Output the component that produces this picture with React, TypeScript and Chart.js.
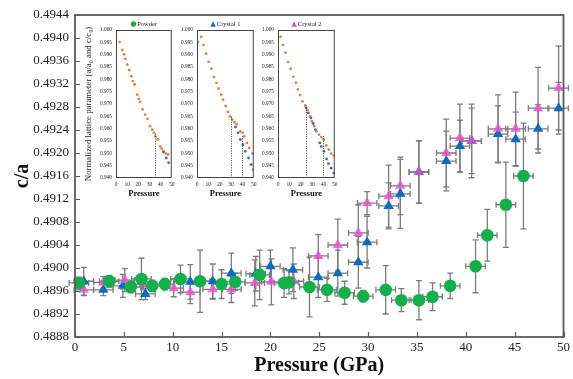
import React, { useEffect, useRef } from 'react';
import { Chart, registerables } from 'chart.js';
Chart.register(...registerables);

const FONT = '"Liberation Serif", "Times New Roman", "DejaVu Serif", serif';

// ---------- main chart data ----------
const powderP = [0.4, 3.5, 5.7, 6.8, 7.9, 9.2, 10.8, 12.8, 15.0, 16.4, 18.9, 21.4, 21.9, 24.0, 25.8, 27.6, 29.5, 31.8, 33.4, 35.2, 36.6, 38.4, 41.0, 42.2, 44.1, 45.9];
const powderCA = [0.48974, 0.48977, 0.48967, 0.48981, 0.48969, 0.48972, 0.48981, 0.48977, 0.48972, 0.48976, 0.48988, 0.48974, 0.48975, 0.48967, 0.48962, 0.48957, 0.48951, 0.48962, 0.48944, 0.48944, 0.4895, 0.48969, 0.49003, 0.49057, 0.4911, 0.4916];
const powderYErr = [0.0001, 0.0001, 0.0001, 0.00036, 0.0001, 0.0001, 0.00024, 0.00054, 0.00025, 0.00015, 0.00043, 0.00025, 0.0002, 0.00052, 0.0002, 0.0002, 0.0001, 0.00042, 0.0002, 0.00034, 0.00024, 0.00022, 0.00046, 0.00045, 0.00074, 0.00092];
const powderXErr = [1, 1, 1, 1, 1, 1, 1, 1, 1, 1, 1, 1, 1, 1, 1, 1, 1, 1, 1, 1, 1, 1, 1, 1, 1, 1];

const crystal1P = [0.9, 2.9, 4.9, 7.2, 11.8, 14.1, 16.0, 18.5, 20.0, 22.3, 24.9, 26.9, 29.0, 29.9, 32.1, 33.3, 35.2, 38.0, 39.4, 40.6, 43.3, 45.1, 47.4, 49.5];
const crystal1CA = [0.48977, 0.48962, 0.48969, 0.48955, 0.48976, 0.48977, 0.48991, 0.4899, 0.49003, 0.48997, 0.48984, 0.48991, 0.4901, 0.49045, 0.49108, 0.49129, 0.49167, 0.49186, 0.49212, 0.49221, 0.49233, 0.49224, 0.49242, 0.49278];
const crystal1YErr = [0.00024, 0.0001, 0.0002, 0.0001, 0.0003, 0.0003, 0.00035, 0.0003, 0.00028, 0.00038, 0.00035, 0.0004, 0.00045, 0.00045, 0.0004, 0.0006, 0.00054, 0.00052, 0.00045, 0.00057, 0.00049, 0.00047, 0.00042, 0.00045];
const crystal1XErr = [1, 1, 1, 1, 1, 1, 1, 1, 1, 1, 1, 1, 1, 1, 1, 1, 1, 1, 1, 1, 1, 1, 1, 1];

const crystal2P = [0.9, 2.9, 5.1, 7.0, 10.1, 11.8, 14.1, 16.0, 18.4, 20.1, 22.4, 24.9, 26.9, 29.0, 29.9, 32.1, 33.3, 35.2, 38.0, 39.4, 40.6, 43.3, 45.1, 47.4, 49.5];
const crystal2CA = [0.48962, 0.48975, 0.48979, 0.48972, 0.48965, 0.48958, 0.48963, 0.48963, 0.48974, 0.48976, 0.48977, 0.49021, 0.4904, 0.49061, 0.49113, 0.49125, 0.49143, 0.49167, 0.492, 0.49226, 0.49221, 0.49242, 0.49242, 0.49278, 0.49313];
const crystal2YErr = [0.0001, 0.0001, 0.0002, 0.0001, 0.00015, 0.0002, 0.00017, 0.00023, 0.0004, 0.0004, 0.0003, 0.00037, 0.00045, 0.00049, 0.0002, 0.00054, 0.0005, 0.00054, 0.00059, 0.00059, 0.00064, 0.00059, 0.00064, 0.00071, 0.00073];
const crystal2XErr = [1, 1, 1, 1, 1, 1, 1, 1, 1, 1, 1, 1, 1, 1, 1, 1, 1, 1, 1, 1, 1, 1, 1, 1, 1];

const seriesNames = ['Powder', 'Crystal 1', 'Crystal 2'];
const xTitle = 'Pressure (GPa)';
const yTitle = 'c/a';

// ---------- inset data ----------
const insetYTitle = 'Normalized lattice parameter (a/a\u2080 and c/c\u2080)';
const insetXTitle = 'Pressure';

const in1OrangeP = [0, 3.2, 5.7, 7.2, 8.3, 10.1, 11.8, 13.8, 15.2, 16.7, 19.0, 20.4, 21.6, 23.9, 26.1, 28.2, 30.5, 32.5, 33.9, 35.3, 37.4, 39.7, 41.1, 42.5, 44.8, 46.8];
const in1OrangeV = [1.0, 0.9951, 0.9919, 0.9901, 0.9883, 0.986, 0.9837, 0.9813, 0.9793, 0.9779, 0.9738, 0.9721, 0.9709, 0.9678, 0.9657, 0.964, 0.961, 0.9596, 0.9583, 0.9569, 0.9556, 0.9528, 0.9519, 0.9508, 0.9499, 0.9495];
const in1BlueP = [42.8, 45.1, 47.2];
const in1BlueV = [0.9505, 0.9481, 0.9462];
const in1Marks = [[35, 0.958]];

const in2OrangeP = [0.9, 3.7, 5.7, 8.0, 10.3, 12.6, 14.9, 17.2, 19.0, 21.3, 23.0, 25.3, 27.3, 29.0, 31.0, 33.0, 35.1, 38.2, 40.2, 41.7, 44.0, 46.0, 48.9];
const in2OrangeV = [0.9951, 0.9972, 0.9939, 0.9904, 0.9871, 0.9843, 0.9809, 0.9786, 0.9762, 0.9738, 0.9718, 0.9691, 0.9668, 0.965, 0.9637, 0.9626, 0.9617, 0.9589, 0.9583, 0.9569, 0.9542, 0.9522, 0.9499];
const in2BlueP = [33.9, 36.2, 38.2, 40.5, 42.5, 45.4, 47.7, 49.7];
const in2BlueV = [0.9607, 0.9583, 0.9556, 0.9535, 0.9508, 0.9481, 0.9454, 0.9434];
const in2Marks = [[30, 0.965], [40, 0.9575]];

const in3OrangeP = [0, 2.3, 4.3, 6.6, 8.9, 11.2, 13.5, 15.8, 17.5, 19.5, 21.6, 23.9, 25.9, 28.2, 29.9, 31.9, 33.9, 36.2, 38.2, 40.2, 42.5, 44.8, 46.8, 49.1];
const in3OrangeV = [1.0, 0.9972, 0.9939, 0.9908, 0.987, 0.9843, 0.981, 0.9786, 0.9759, 0.9736, 0.9711, 0.9694, 0.9675, 0.965, 0.963, 0.961, 0.9589, 0.9576, 0.9566, 0.9556, 0.9532, 0.9515, 0.9499, 0.9491];
const in3BlueP = [24.7, 26.7, 29.0, 31.0, 33.0, 36.8, 38.2, 40.5, 42.8, 44.5, 46.8, 49.1];
const in3BlueV = [0.9684, 0.9664, 0.9644, 0.9621, 0.9596, 0.9542, 0.9528, 0.9508, 0.9477, 0.9458, 0.944, 0.942];
const in3Marks = [[25, 0.9694], [40, 0.9576]];

// ---------- colours ----------
const GREEN = '#12B04B';
const BLUE = '#0A6CC4';
const PINK = 'rgba(236,78,212,0.82)';
const ORANGE = '#E8803A';
const IBLUE = '#3E6BC6';
const AXIS = '#5a5a5a';
const ERR = '#7c7c7c';

function pts(P: number[], V: number[], XE?: number[], YE?: number[]) {
  return P.map((p, i) => ({ x: p, y: V[i], xe: XE ? XE[i] : 0, ye: YE ? YE[i] : 0 }));
}

const errorBarPlugin = {
  id: 'errorBars',
  beforeDatasetsDraw(chart: any) {
    const { ctx } = chart;
    const xs = chart.scales.x;
    const ys = chart.scales.y;
    const cap = 3;
    ctx.save();
    ctx.strokeStyle = ERR;
    ctx.lineWidth = 1.3;
    chart.data.datasets.forEach((ds: any) => {
      ds.data.forEach((d: any) => {
        const px = xs.getPixelForValue(d.x);
        const py = ys.getPixelForValue(d.y);
        if (d.ye) {
          const t = ys.getPixelForValue(d.y + d.ye);
          const b = ys.getPixelForValue(d.y - d.ye);
          ctx.beginPath();
          ctx.moveTo(px, t); ctx.lineTo(px, b);
          ctx.moveTo(px - cap, t); ctx.lineTo(px + cap, t);
          ctx.moveTo(px - cap, b); ctx.lineTo(px + cap, b);
          ctx.stroke();
        }
        if (d.xe) {
          const l = xs.getPixelForValue(d.x - d.xe);
          const r = xs.getPixelForValue(d.x + d.xe);
          ctx.beginPath();
          ctx.moveTo(l, py); ctx.lineTo(r, py);
          ctx.moveTo(l, py - cap); ctx.lineTo(l, py + cap);
          ctx.moveTo(r, py - cap); ctx.lineTo(r, py + cap);
          ctx.stroke();
        }
      });
    });
    ctx.restore();
  },
};

const mainFramePlugin = {
  id: 'mainFrame',
  afterDraw(chart: any) {
    const { ctx, chartArea: ca } = chart;
    const xs = chart.scales.x;
    const ys = chart.scales.y;
    ctx.save();
    ctx.strokeStyle = AXIS;
    ctx.lineWidth = 1.2;
    ctx.beginPath();
    xs.ticks.forEach((t: any) => {
      const px = Math.round(xs.getPixelForValue(t.value)) + 0.5;
      ctx.moveTo(px, ca.bottom); ctx.lineTo(px, ca.bottom - 5);
    });
    ys.ticks.forEach((t: any) => {
      const py = Math.round(ys.getPixelForValue(t.value)) + 0.5;
      ctx.moveTo(ca.left, py); ctx.lineTo(ca.left + 5, py);
    });
    ctx.stroke();
    ctx.lineWidth = 1.8;
    ctx.strokeRect(ca.left, ca.top, ca.right - ca.left, ca.bottom - ca.top);
    ctx.restore();
  },
};

const insetPlugin = {
  id: 'insetDecor',
  afterDraw(chart: any, _args: any, opts: any) {
    const { ctx, chartArea: ca } = chart;
    const xs = chart.scales.x;
    const ys = chart.scales.y;
    ctx.save();
    ctx.strokeStyle = '#333';
    ctx.lineWidth = 0.8;
    ctx.setLineDash([1.2, 1.2]);
    (opts.marks || []).forEach((m: number[]) => {
      const px = Math.round(xs.getPixelForValue(m[0])) + 0.5;
      ctx.beginPath();
      ctx.moveTo(px, ca.bottom);
      ctx.lineTo(px, ys.getPixelForValue(m[1]));
      ctx.stroke();
    });
    ctx.setLineDash([]);
    ctx.strokeStyle = '#444';
    ctx.lineWidth = 1;
    ctx.strokeRect(ca.left + 0.5, ca.top + 0.5, ca.right - ca.left - 1, ca.bottom - ca.top - 1);
    ctx.font = `6.5px ${FONT}`;
    const tw = ctx.measureText(opts.text).width;
    const ms = 5.5;
    const total = ms + 1 + tw;
    const cx = (ca.left + ca.right) / 2;
    const x0 = cx - total / 2;
    const y = ca.top - 6;
    ctx.fillStyle = opts.color;
    ctx.beginPath();
    if (opts.shape === 'circle') {
      ctx.arc(x0 + ms / 2, y, ms / 2, 0, Math.PI * 2);
    } else {
      ctx.moveTo(x0 + ms / 2, y - ms / 2);
      ctx.lineTo(x0 + ms, y + ms / 2);
      ctx.lineTo(x0, y + ms / 2);
      ctx.closePath();
    }
    ctx.fill();
    ctx.fillStyle = '#222';
    ctx.textAlign = 'left';
    ctx.textBaseline = 'middle';
    ctx.fillText(opts.text, x0 + ms + 1, y + 0.5);
    ctx.restore();
  },
};

function mainConfig(): any {
  return {
    type: 'scatter',
    data: {
      datasets: [
        { label: seriesNames[0], data: pts(powderP, powderCA, powderXErr, powderYErr), pointStyle: 'circle', pointRadius: 6.3, backgroundColor: GREEN, borderColor: GREEN, borderWidth: 0 },
        { label: seriesNames[2], data: pts(crystal2P, crystal2CA, crystal2XErr, crystal2YErr), pointStyle: 'triangle', pointRadius: 6, backgroundColor: PINK, borderColor: PINK, borderWidth: 0 },
        { label: seriesNames[1], data: pts(crystal1P, crystal1CA, crystal1XErr, crystal1YErr), pointStyle: 'triangle', pointRadius: 6, backgroundColor: BLUE, borderColor: BLUE, borderWidth: 0 },
      ],
    },
    options: {
      responsive: false,
      animation: false,
      events: [],
      layout: { padding: { top: 15, right: 7, left: 0, bottom: 0 } },
      plugins: { legend: { display: false }, tooltip: { enabled: false } },
      scales: {
        x: {
          type: 'linear', min: 0, max: 50,
          afterFit: (s: any) => { s.height = 42; },
          grid: { display: false, drawTicks: false, tickLength: 0 },
          border: { display: false },
          ticks: { stepSize: 5, padding: 3, color: '#222', font: { family: FONT, size: 13 } },
          title: { display: true, text: xTitle, color: '#111', padding: { top: 0, bottom: 1 }, font: { family: FONT, size: 20, weight: 'bold' } },
        },
        y: {
          type: 'linear', min: 0.4888, max: 0.4944,
          afterFit: (s: any) => { s.width = 75; },
          grid: { display: false, drawTicks: false, tickLength: 0 },
          border: { display: false },
          ticks: { stepSize: 0.0004, padding: 6, color: '#222', font: { family: FONT, size: 13 }, callback: (v: any) => Number(v).toFixed(4) },
          title: { display: true, text: yTitle, color: '#111', padding: { top: 11, bottom: 0 }, font: { family: FONT, size: 20, weight: 'bold' } },
        },
      },
    },
    plugins: [errorBarPlugin, mainFramePlugin],
  };
}

function insetConfig(opt: { oP: number[]; oV: number[]; bP: number[]; bV: number[]; marks: number[][]; text: string; color: string; shape: string; yw: number; padRight: number; yTitle: boolean }): any {
  return {
    type: 'scatter',
    data: {
      datasets: [
        { label: 'blue', data: pts(opt.bP, opt.bV), pointRadius: 1.4, backgroundColor: IBLUE, borderWidth: 0 },
        { label: 'orange', data: pts(opt.oP, opt.oV), pointRadius: 1.4, backgroundColor: ORANGE, borderWidth: 0 },
      ],
    },
    options: {
      responsive: false,
      animation: false,
      events: [],
      layout: { padding: { top: 16, right: opt.padRight, left: 0, bottom: 0 } },
      plugins: {
        legend: { display: false },
        tooltip: { enabled: false },
        insetDecor: { marks: opt.marks, text: opt.text, color: opt.color, shape: opt.shape },
      },
      scales: {
        x: {
          type: 'linear', min: 0, max: 50,
          afterFit: (s: any) => { s.height = 24; },
          grid: { display: false, drawTicks: false, tickLength: 0 },
          border: { display: false },
          ticks: { stepSize: 10, padding: 3.5, maxRotation: 0, color: '#222', font: { family: FONT, size: 5.5 } },
          title: { display: true, text: insetXTitle, color: '#111', padding: { top: 0, bottom: 3 }, font: { family: FONT, size: 8.5, weight: 'bold' } },
        },
        y: {
          type: 'linear', min: 0.94, max: 1.0,
          afterFit: (s: any) => { s.width = opt.yw; },
          grid: { display: false, drawTicks: false, tickLength: 0 },
          border: { display: false },
          ticks: { stepSize: 0.005, padding: 4, color: '#222', font: { family: FONT, size: 5.3 }, callback: (v: any) => Number(v).toFixed(3) },
          title: { display: opt.yTitle, text: insetYTitle, color: '#222', padding: { top: 5, bottom: 0 }, font: { family: FONT, size: 8.8 } },
        },
      },
    },
    plugins: [insetPlugin],
  };
}

export default function App() {
  const mainRef = useRef<HTMLCanvasElement>(null);
  const r1 = useRef<HTMLCanvasElement>(null);
  const r2 = useRef<HTMLCanvasElement>(null);
  const r3 = useRef<HTMLCanvasElement>(null);

  useEffect(() => {
    const charts: Chart[] = [];
    charts.push(new Chart(mainRef.current as HTMLCanvasElement, mainConfig()));
    charts.push(new Chart(r1.current as HTMLCanvasElement, insetConfig({ oP: in1OrangeP, oV: in1OrangeV, bP: in1BlueP, bV: in1BlueV, marks: in1Marks, text: seriesNames[0], color: GREEN, shape: 'circle', yw: 38, padRight: 4, yTitle: true })));
    charts.push(new Chart(r2.current as HTMLCanvasElement, insetConfig({ oP: in2OrangeP, oV: in2OrangeV, bP: in2BlueP, bV: in2BlueV, marks: in2Marks, text: seriesNames[1], color: BLUE, shape: 'triangle', yw: 37, padRight: 5, yTitle: false })));
    charts.push(new Chart(r3.current as HTMLCanvasElement, insetConfig({ oP: in3OrangeP, oV: in3OrangeV, bP: in3BlueP, bV: in3BlueV, marks: in3Marks, text: seriesNames[2], color: '#EC4ED4', shape: 'triangle', yw: 37, padRight: 4, yTitle: false })));
    return () => { charts.forEach((c) => c.destroy()); };
  }, []);

  return (
    <div style={{ position: 'fixed', left: 0, top: 0, width: 573, height: 379, background: '#fff' }}>
      <canvas ref={mainRef} width={573} height={379} style={{ position: 'absolute', left: 0, top: 0 }} />
      <canvas ref={r1} width={100} height={188} style={{ position: 'absolute', left: 78, top: 14 }} />
      <canvas ref={r2} width={100} height={188} style={{ position: 'absolute', left: 160, top: 14 }} />
      <canvas ref={r3} width={100} height={188} style={{ position: 'absolute', left: 241, top: 14 }} />
    </div>
  );
}
